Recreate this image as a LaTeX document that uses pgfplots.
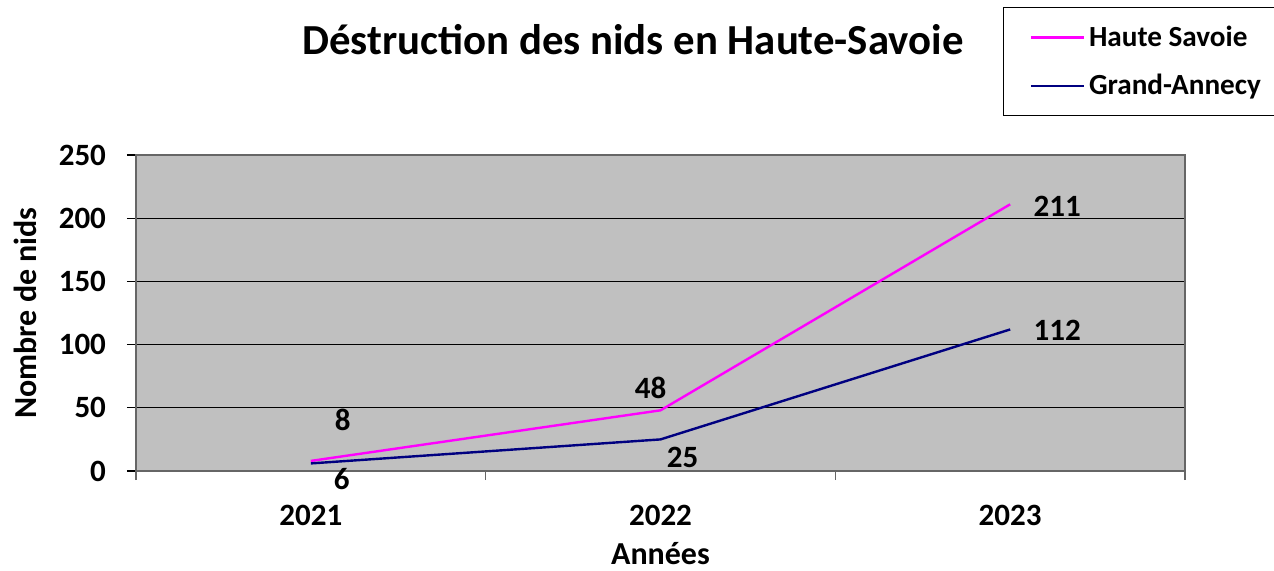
\documentclass[border=0pt]{standalone}
\usepackage{pgfplots}
\pgfplotsset{compat=1.18}
\usepackage{fontspec}
\setmainfont{Carlito}
\definecolor{bggray}{RGB}{192,192,192}
\definecolor{hsav}{RGB}{255,0,255}
\definecolor{gann}{RGB}{0,0,128}
\begin{document}
\begin{tikzpicture}
\useasboundingbox (-68pt,-49.5pt) rectangle (569pt,235.5pt);
\begin{axis}[
  at={(0,0)}, anchor=south west,
  scale only axis, width=524.5pt, height=158pt,
  xmin=-0.5, xmax=2.5, ymin=0, ymax=250,
  xtick={0,1,2}, xticklabels={2021,2022,2023},
  minor xtick={-0.5,0.5,1.5,2.5},
  ytick={0,50,100,150,200,250},
  xtick pos=bottom, ytick pos=left,
  ymajorgrids, grid style={black, line width=0.6pt},
  axis background/.style={fill=bggray},
  axis line style={black!60, line width=0.8pt},
  tick align=outside,
  major x tick style={draw=none},
  minor x tick style={black!60, line width=0.8pt},
  major y tick style={black, line width=0.6pt},
  major tick length=4.5pt, minor tick length=4.5pt,
  /pgf/number format/assume math mode=true,
  tick label style={font=\bfseries\fontsize{15.5}{18}\selectfont},
  xticklabel style={yshift=-9pt},
  yticklabel style={xshift=-7pt},
  every axis y label/.style={at={(axis description cs:0,0.5)}, xshift=-55.5pt, rotate=90, anchor=center},
  every axis x label/.style={at={(axis description cs:0.5,0)}, yshift=-41.5pt, anchor=center},
  label style={font=\bfseries\fontsize{16}{18}\selectfont},
  xlabel={Années}, ylabel={Nombre de nids},
  clip=false,
  legend style={draw=black, line width=0.6pt, fill=white, at={(0.8265,1.468)}, anchor=north west,
    font=\bfseries\fontsize{14.6}{17}\selectfont, row sep=8.5pt, inner xsep=13pt, inner ysep=7pt,
    minimum width=0pt},
  legend cell align=left,
  legend image code/.code={\draw[#1] (0pt,0pt) -- (26.5pt,0pt);},
]
\addplot[hsav, line width=1.2pt] coordinates {(0,8) (1,48) (2,211)};
\addlegendentry{Haute Savoie}
\addplot[gann, line width=1.2pt] coordinates {(0,6) (1,25) (2,112)};
\addlegendentry{Grand-Annecy}
\begin{scope}[every node/.style={font=\bfseries\fontsize{15.5}{18}\selectfont}]
\node at (axis cs:0,8) [xshift=16pt, yshift=20.5pt] {8};
\node at (axis cs:0,6) [xshift=15.5pt, yshift=-8pt] {6};
\node at (axis cs:1,48) [xshift=-5pt, yshift=11pt] {48};
\node at (axis cs:1,25) [xshift=11pt, yshift=-9pt] {25};
\node at (axis cs:2,211) [xshift=23.5pt, yshift=-1pt] {211};
\node at (axis cs:2,112) [xshift=23.5pt, yshift=-0.5pt] {112};
\end{scope}
\end{axis}
\node[font=\bfseries\fontsize{21.4}{25}\selectfont] at (248.5pt,215.5pt) {Déstruction des nids en Haute-Savoie};
\end{tikzpicture}
\end{document}
